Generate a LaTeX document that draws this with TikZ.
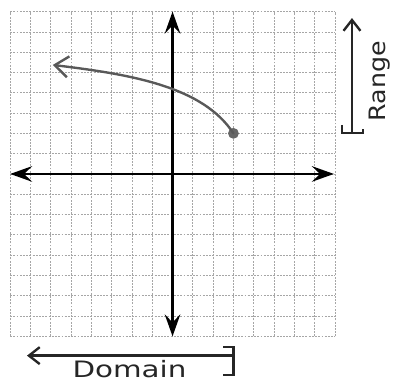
\documentclass[tikz,border=0pt]{standalone}
\usepackage{fontspec}
\setmainfont{DejaVu Sans}
\usepackage{tikz}
\usetikzlibrary{arrows.meta, positioning}

\begin{document}
\begin{tikzpicture}[
    x=0.6cm, y=0.6cm,
    gridline/.style={draw=gray!70, line width=0.6pt, dash pattern=on 1.6pt off 1.1pt},
    axis/.style={draw=black, line width=2.4pt, {Stealth[length=6.5mm,width=4.6mm,inset=2.4mm]}-{Stealth[length=6.5mm,width=4.6mm,inset=2.4mm]}},
    curve/.style={draw=black!65, line width=2pt, line cap=round},
    span/.style={draw=black!85, line width=2pt},
    barb/.style={-{Straight Barb[length=3.2mm,width=5mm,line width=2pt]}},
    dot/.style={circle, fill=black!60, inner sep=0pt, minimum size=3.2mm},
    hand/.style={font=\fontsize{19}{19}\selectfont, text=black!85, inner sep=0pt}
]
\useasboundingbox (-8.50,-10.39) rectangle (10.91,8.57);
% graph paper, 16 x 16 cells
\foreach \k in {-8,...,8} {
  \draw[gridline] (\k,-8) -- (\k,8);
  \draw[gridline] (-8,\k) -- (8,\k);
}
% axes
\coordinate (xl) at (-8,0);
\coordinate (xr) at (7.95,0);
\coordinate (yt) at (0,8);
\coordinate (yb) at (0,-8);
\draw[axis] (xl) -- (xr);
\draw[axis] (yt) -- (yb);
% the function, closed end at (3,2)
\node[dot] (endpt) at (3,2) {};
\coordinate (tail) at (-5.9,5.37);
\draw[curve, {Straight Barb[length=4mm,width=6.2mm,line width=2pt]}-]
  (tail) .. controls (-2,4.9) and (1.5,4.3) .. (endpt.center);
% range
\coordinate (rngB) at (8.84,2.02);
\coordinate (rngT) at (8.84,7.68);
\draw[span, barb] (rngB) -- (rngT);
\draw[span] (8.35,2.42) -- (8.35,2.02) -- (9.38,2.02) -- (9.38,2.2);
\node[hand, rotate=90, anchor=base] (rng) at (10.5,4.58) {\scalebox{1.12}[1]{Range}};
% domain
\coordinate (domR) at (2.95,-8.95);
\coordinate (domL) at (-7.17,-8.95);
\draw[span, barb] (domR) -- (domL);
\draw[span] (2.5,-8.52) -- (3.0,-8.52) -- (3.0,-9.9) -- (2.5,-9.9);
\node[hand, anchor=base] (dom) at (-2.12,-10.05) {\scalebox{1.3}[1]{Domain}};
\end{tikzpicture}
\end{document}
